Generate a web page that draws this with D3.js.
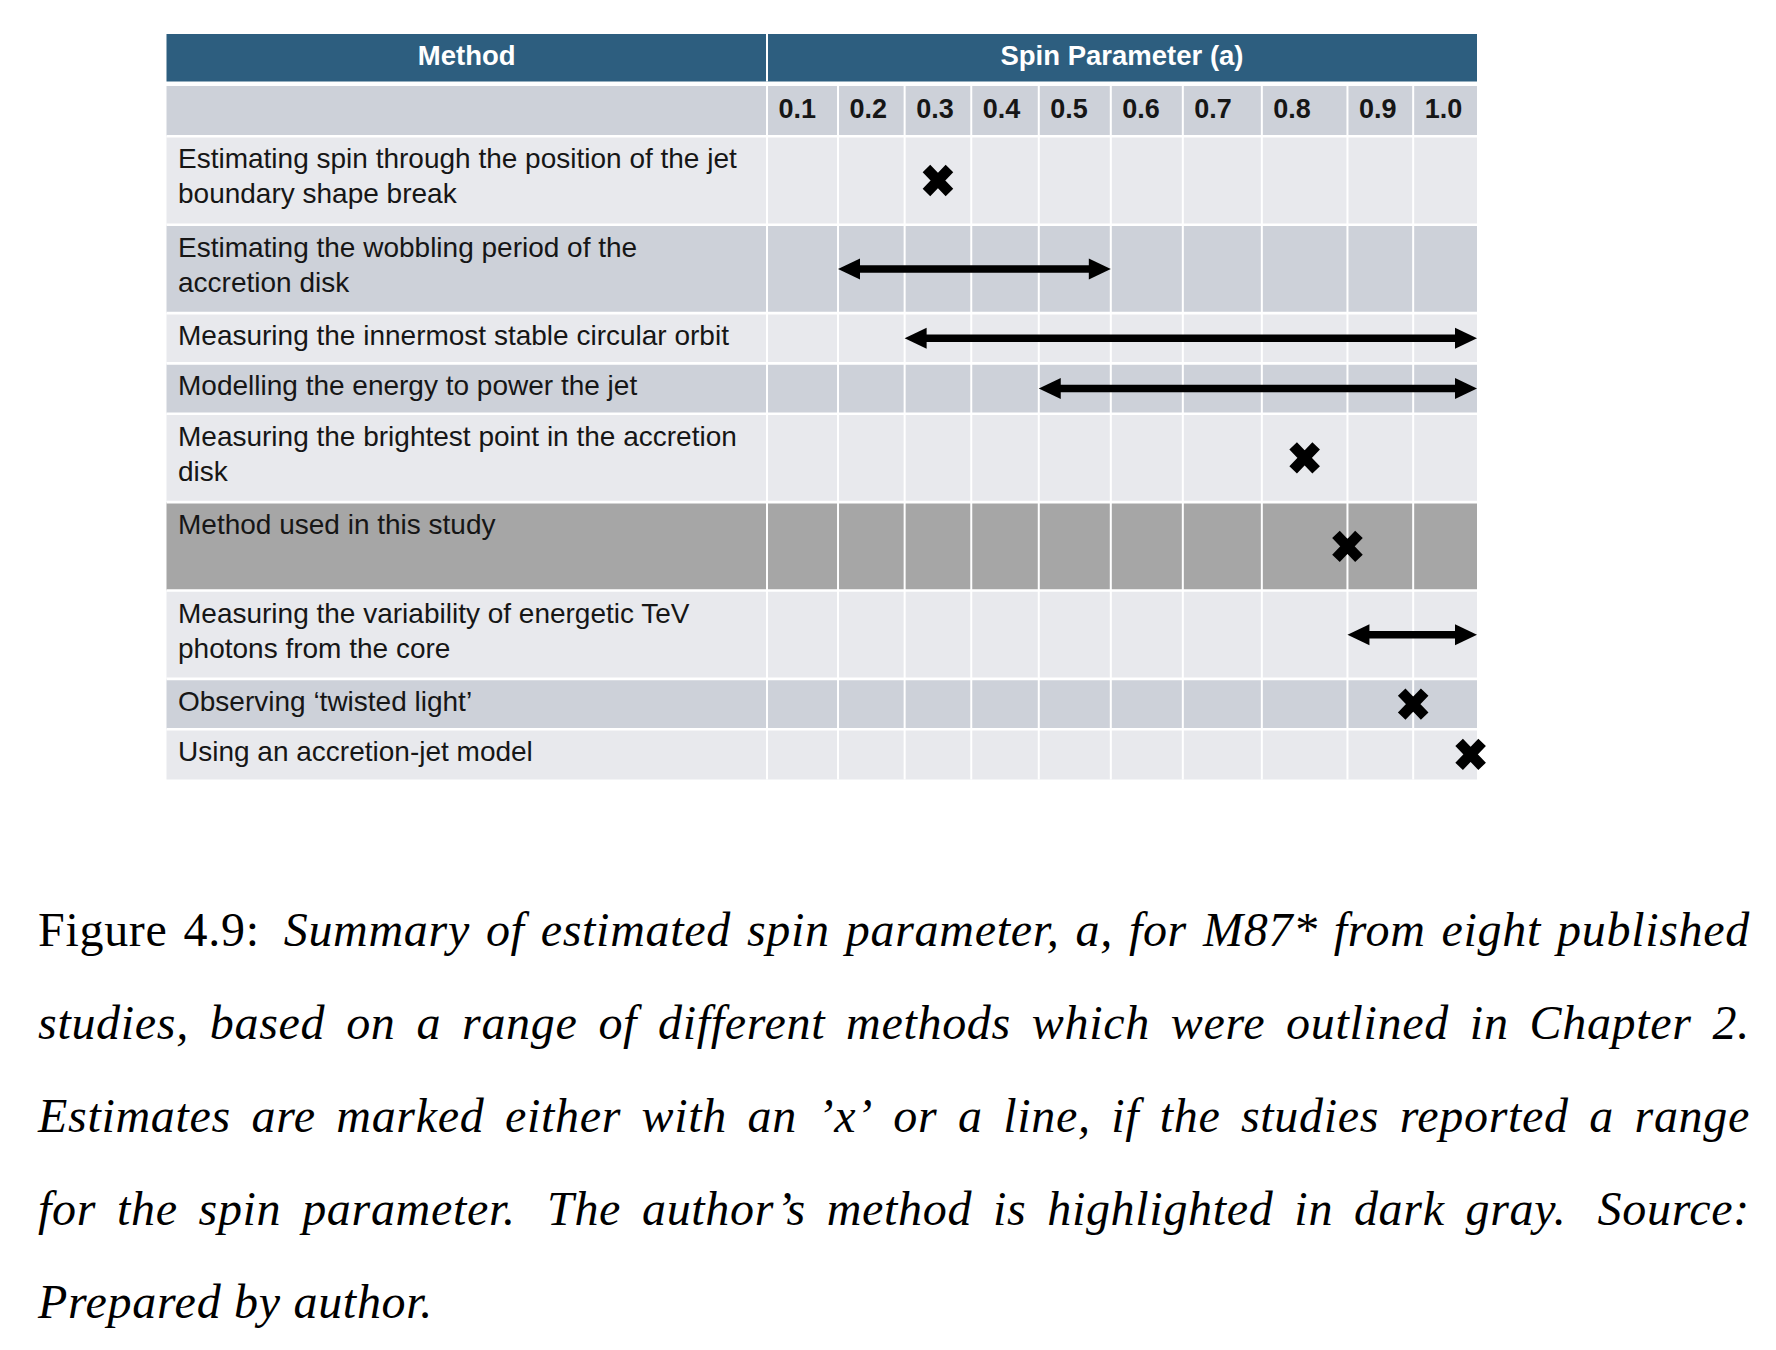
<!DOCTYPE html>
<html><head><meta charset="utf-8">
<script src="https://cdn.jsdelivr.net/npm/d3@7"></script>
<style>
html,body{margin:0;padding:0;background:#fff;}
svg{display:block;}
</style></head><body>
<svg id="chart" width="1776" height="1350"></svg>
<script>
// ---------------- data ----------------
const headerMethod = "Method";
const headerSpin = "Spin Parameter (a)";
const methodLabels = [
  "Estimating spin through the position of the jet\nboundary shape break",
  "Estimating the wobbling period of the\naccretion disk",
  "Measuring the innermost stable circular orbit",
  "Modelling the energy to power the jet",
  "Measuring the brightest point in the accretion\ndisk",
  "Method used in this study\n",
  "Measuring the variability of energetic TeV\nphotons from the core",
  "Observing \u2018twisted light\u2019",
  "Using an accretion-jet model"
];
const spinTicks = [0.1, 0.2, 0.3, 0.4, 0.5, 0.6, 0.7, 0.8, 0.9, 1.0];
const spinTickLabels = ["0.1", "0.2", "0.3", "0.4", "0.5", "0.6", "0.7", "0.8", "0.9", "1.0"];
// estimate per method: a point when low === high, otherwise a reported range
const spinLow  = [0.30, 0.15, 0.25, 0.45, 0.80, 0.85, 0.85, 0.95, 1.04];
const spinHigh = [0.30, 0.55, 1.05, 1.05, 0.80, 0.85, 1.05, 0.95, 1.04];
const authorMethod = "Method used in this study";
const captionLabel = "Figure 4.9:";
const captionLines = [
  "Summary of estimated spin parameter, a, for M87* from eight published",
  "studies, based on a range of different methods which were outlined in Chapter 2.",
  "Estimates are marked either with an \u2019x\u2019 or a line, if the studies reported a range",
  "for the spin parameter.  The author\u2019s method is highlighted in dark gray.  Source:",
  "Prepared by author."
];

// ---------------- layout & style ----------------
const W = 1776, H = 1350;
const tableLeft = 166.5, methodRight = 767, tableRight = 1477;
const headerTop = 34, headerH = 47.5, subTop = 86;
const colWeights = [71, 66.6, 66.6, 67.5, 72, 72, 79, 85.6, 65.7, 63.8];
const rowPitch = n => 12.2 + 38.1 * n;
const C = {header: "#2d5e7f", band: "#cdd1d9", light: "#e8e9ed", author: "#a6a6a6",
           grid: "#ffffff", ink: "#000000", text: "#161616"};
const sansBold = "'Liberation Sans', Arial, sans-serif";
const rowFont = "'Liberation Sans', Arial, sans-serif";
const capFont = "'Liberation Serif', 'Times New Roman', serif";

const svg = d3.select("#chart");
svg.append("rect").attr("width", W).attr("height", H).attr("fill", "#fff");

// x scale: column centres are the tick values, column edges halfway between
const half = 0.05;
const edgesDomain = [spinTicks[0] - half].concat(spinTicks.map(t => t + half));
const totW = d3.sum(colWeights);
const edgesPx = [methodRight];
colWeights.forEach(w => edgesPx.push(edgesPx[edgesPx.length - 1] + w / totW * (tableRight - methodRight)));
const x = d3.scaleLinear().domain(edgesDomain).range(edgesPx);

// rows
const rows = [];
let yy = subTop + rowPitch(1);
methodLabels.forEach((lab, i) => {
  const lines = lab.split("\n");
  const h = rowPitch(lines.length);
  rows.push({i, lab, lines, top: yy, h});
  yy += h;
});
const tableBottom = yy;

const g = svg.append("g");

// header
g.append("rect").attr("x", tableLeft).attr("y", headerTop).attr("width", tableRight - tableLeft)
  .attr("height", headerH).attr("fill", C.header);
g.append("text").attr("x", (tableLeft + methodRight) / 2).attr("y", headerTop + 31)
  .attr("text-anchor", "middle").attr("font-family", sansBold).attr("font-weight", "bold")
  .attr("font-size", 27.5).attr("fill", "#fff").text(headerMethod);
g.append("text").attr("x", (methodRight + tableRight) / 2).attr("y", headerTop + 31)
  .attr("text-anchor", "middle").attr("font-family", sansBold).attr("font-weight", "bold")
  .attr("font-size", 27.5).attr("fill", "#fff").text(headerSpin);

// sub header band
g.append("rect").attr("x", tableLeft).attr("y", subTop).attr("width", tableRight - tableLeft)
  .attr("height", rowPitch(1)).attr("fill", C.band);

// row backgrounds
g.selectAll("rect.row").data(rows).join("rect").attr("class", "row")
  .attr("x", tableLeft).attr("y", d => d.top).attr("width", tableRight - tableLeft)
  .attr("height", d => d.h)
  .attr("fill", d => d.lab.trim() === authorMethod ? C.author : (d.i % 2 === 0 ? C.light : C.band));

// grid lines
g.selectAll("line.h").data(rows).join("line").attr("class", "h")
  .attr("x1", tableLeft).attr("x2", tableRight).attr("y1", d => d.top).attr("y2", d => d.top)
  .attr("stroke", C.grid).attr("stroke-width", 2.6);
g.append("line").attr("x1", methodRight).attr("x2", methodRight)
  .attr("y1", headerTop).attr("y2", headerTop + headerH).attr("stroke", C.grid).attr("stroke-width", 2);
g.selectAll("line.v").data(edgesDomain.slice(0, -1)).join("line").attr("class", "v")
  .attr("x1", d => x(d)).attr("x2", d => x(d)).attr("y1", subTop).attr("y2", tableBottom)
  .attr("stroke", C.grid).attr("stroke-width", 2);

// tick labels via axis
const axis = d3.axisTop(x).tickValues(spinTicks).tickSize(0)
  .tickFormat((d, i) => spinTickLabels[i]);
const ax = g.append("g").attr("transform", `translate(0,${subTop + 31.5})`).call(axis);
ax.select(".domain").remove();
ax.selectAll("text").attr("font-family", sansBold).attr("font-weight", "bold")
  .attr("font-size", 27).attr("fill", C.text).attr("text-anchor", "start")
  .attr("dy", 0).attr("y", 0)
  .attr("x", d => x(d - half) - x(d) + 11);

// method labels
const lab = g.selectAll("text.lab").data(rows).join("text").attr("class", "lab")
  .attr("font-family", rowFont).attr("font-size", 28).attr("fill", C.text);
lab.selectAll("tspan").data(d => d.lines.map((t, k) => ({t, k, top: d.top}))).join("tspan")
  .attr("x", tableLeft + 11.5).attr("y", d => d.top + 32 + d.k * 35).text(d => d.t);

// estimates
const marks = g.append("g");
rows.forEach((r, i) => {
  const lo = spinLow[i], hi = spinHigh[i];
  const cy = r.top + r.h / 2;
  if (lo === hi) {
    const cx = x(lo), a = 11.5;
    marks.append("path")
      .attr("d", `M${cx - a},${cy - a - 0.5}L${cx + a},${cy + a + 0.5}M${cx + a},${cy - a - 0.5}L${cx - a},${cy + a + 0.5}`)
      .attr("stroke", C.ink).attr("stroke-width", 10.5).attr("fill", "none");
  } else {
    const x0 = x(lo), x1 = x(hi), hl = 22, hw = 10.5;
    marks.append("line").attr("x1", x0 + hl - 2).attr("x2", x1 - hl + 2).attr("y1", cy).attr("y2", cy)
      .attr("stroke", C.ink).attr("stroke-width", 7.5);
    marks.append("path").attr("d", `M${x0},${cy}L${x0 + hl},${cy - hw}L${x0 + hl},${cy + hw}Z`).attr("fill", C.ink);
    marks.append("path").attr("d", `M${x1},${cy}L${x1 - hl},${cy - hw}L${x1 - hl},${cy + hw}Z`).attr("fill", C.ink);
  }
});

// caption (justified)
const capSize = 48, capSpacing = 0.7, capLeft = 38, capRight = 1750, capBase0 = 946, capStep = 93;
const meas = svg.append("text").attr("font-family", capFont).attr("font-size", capSize)
  .attr("letter-spacing", capSpacing).attr("visibility", "hidden");
function ww(t, it) { meas.attr("font-style", it ? "italic" : "normal").text(t); return meas.node().getComputedTextLength(); }
const spaceW = ww("a a", true) - ww("aa", true);
captionLines.forEach((line, li) => {
  const words = [];
  if (li === 0) captionLabel.split(" ").forEach(t => words.push({t, it: false}));
  line.split(/\s+/).forEach(t => words.push({t, it: true}));
  words.forEach(w => { w.w = ww(w.t, w.it); });
  const gaps = words.slice(0, -1).map(w => /[.:]$/.test(w.t) ? 1.5 : 1);
  const last = li === captionLines.length - 1;
  const unit = last ? spaceW : (capRight - capLeft - d3.sum(words, w => w.w)) / d3.sum(gaps);
  let cx = capLeft;
  const t = svg.append("text").attr("font-family", capFont).attr("font-size", capSize)
    .attr("letter-spacing", capSpacing).attr("fill", "#000").attr("y", capBase0 + li * capStep);
  words.forEach((w, k) => {
    t.append("tspan").attr("x", cx).attr("font-style", w.it ? "italic" : "normal").text(w.t);
    cx += w.w + (k < gaps.length ? gaps[k] * unit : 0);
  });
});
meas.remove();
</script>
</body></html>
